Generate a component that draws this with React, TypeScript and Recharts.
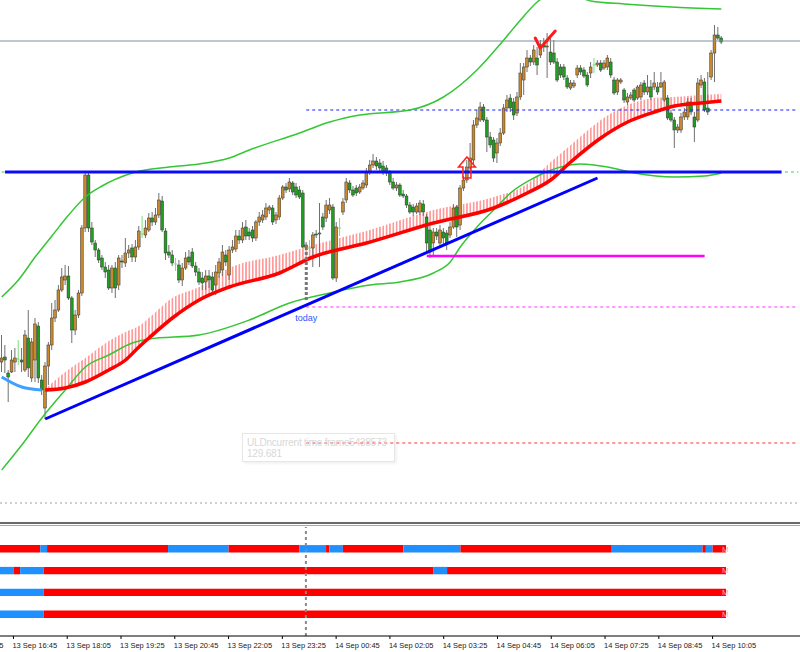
import {
  Area,
  Bar,
  ComposedChart,
  Line,
  ReferenceArea,
  ReferenceDot,
  ReferenceLine,
  XAxis,
  YAxis,
} from "recharts";

// time axis: first label sits off the left edge, the others every 16 bars
const timeLabels = [
  "13 Sep 15:25", "13 Sep 16:45", "13 Sep 18:05", "13 Sep 19:25", "13 Sep 20:45",
  "13 Sep 22:05", "13 Sep 23:25", "14 Sep 00:45", "14 Sep 02:05", "14 Sep 03:25",
  "14 Sep 04:45", "14 Sep 06:05", "14 Sep 07:25", "14 Sep 08:45", "14 Sep 10:05",
];
const tickIdx = [4, 20, 36, 52, 68, 84, 100, 116, 132, 148, 164, 180, 196, 212];

// M5 candles, 13 Sep 16:25 .. 14 Sep 10:20
const openP = [
  130.138, 130.143, 130.127, 130.128, 130.138, 130.141, 130.140, 130.130, 130.162, 130.122,
  130.140, 130.174, 130.120, 130.092, 130.134, 130.155, 130.182, 130.190, 130.210, 130.220,
  130.224, 130.202, 130.170, 130.185, 130.207, 130.272, 130.325, 130.272, 130.257, 130.250,
  130.242, 130.233, 130.230, 130.212, 130.232, 130.215, 130.239, 130.237, 130.247, 130.252,
  130.243, 130.253, 130.266, 130.265, 130.270, 130.282, 130.278, 130.285, 130.299, 130.269,
  130.248, 130.245, 130.236, 130.235, 130.220, 130.232, 130.243, 130.248, 130.234, 130.228,
  130.222, 130.218, 130.224, 130.223, 130.215, 130.227, 130.230, 130.245, 130.225, 130.250,
  130.251, 130.264, 130.260, 130.273, 130.268, 130.270, 130.262, 130.278, 130.280, 130.283,
  130.290, 130.292, 130.280, 130.283, 130.302, 130.313, 130.311, 130.317, 130.313, 130.310,
  130.307, 130.253, 130.252, 130.252, 130.266, 130.266, 130.283, 130.282, 130.290, 130.293,
  130.222, 130.272, 130.288, 130.300, 130.317, 130.310, 130.312, 130.308, 130.312, 130.315,
  130.328, 130.335, 130.339, 130.337, 130.334, 130.332, 130.327, 130.318, 130.312, 130.315,
  130.306, 130.304, 130.295, 130.293, 130.288, 130.288, 130.296, 130.283, 130.270, 130.257,
  130.268, 130.257, 130.268, 130.267, 130.265, 130.273, 130.293, 130.275, 130.312, 130.320,
  130.332, 130.340, 130.375, 130.380, 130.393, 130.380, 130.363, 130.360, 130.347, 130.357,
  130.367, 130.392, 130.402, 130.398, 130.387, 130.403, 130.420, 130.433, 130.442, 130.438,
  130.442, 130.445, 130.455, 130.453, 130.448, 130.447, 130.438, 130.433, 130.433, 130.422,
  130.412, 130.414, 130.425, 130.432, 130.430, 130.425, 130.427, 130.435, 130.435, 130.437,
  130.432, 130.433, 130.438, 130.420, 130.408, 130.418, 130.410, 130.398, 130.402, 130.410,
  130.402, 130.403, 130.417, 130.408, 130.413, 130.413, 130.413, 130.413, 130.400, 130.402,
  130.387, 130.380, 130.370, 130.370, 130.383, 130.383, 130.398, 130.383, 130.380, 130.415,
  130.418, 130.392, 130.423, 130.447, 130.465, 130.462,
];
const highP = [
  130.165, 130.155, 130.130, 130.150, 130.152, 130.160, 130.152, 130.170, 130.190, 130.162,
  130.182, 130.178, 130.125, 130.138, 130.158, 130.197, 130.200, 130.215, 130.232, 130.235,
  130.234, 130.204, 130.190, 130.210, 130.275, 130.328, 130.328, 130.278, 130.260, 130.252,
  130.245, 130.238, 130.235, 130.235, 130.238, 130.245, 130.245, 130.262, 130.255, 130.256,
  130.260, 130.274, 130.284, 130.280, 130.287, 130.288, 130.292, 130.307, 130.304, 130.272,
  130.255, 130.250, 130.242, 130.240, 130.237, 130.248, 130.250, 130.252, 130.238, 130.232,
  130.228, 130.230, 130.230, 130.228, 130.235, 130.242, 130.255, 130.250, 130.254, 130.260,
  130.270, 130.270, 130.278, 130.280, 130.272, 130.274, 130.280, 130.288, 130.290, 130.297,
  130.295, 130.295, 130.288, 130.305, 130.315, 130.317, 130.322, 130.319, 130.317, 130.314,
  130.310, 130.258, 130.260, 130.268, 130.270, 130.297, 130.287, 130.300, 130.302, 130.296,
  130.278, 130.282, 130.302, 130.322, 130.320, 130.314, 130.315, 130.316, 130.320, 130.332,
  130.340, 130.346, 130.343, 130.341, 130.339, 130.335, 130.330, 130.322, 130.318, 130.317,
  130.310, 130.306, 130.298, 130.296, 130.297, 130.300, 130.300, 130.286, 130.274, 130.272,
  130.272, 130.275, 130.272, 130.270, 130.278, 130.296, 130.295, 130.315, 130.324, 130.340,
  130.357, 130.380, 130.390, 130.398, 130.396, 130.383, 130.368, 130.363, 130.362, 130.372,
  130.396, 130.405, 130.406, 130.402, 130.408, 130.437, 130.437, 130.450, 130.445, 130.455,
  130.453, 130.460, 130.462, 130.467, 130.465, 130.460, 130.442, 130.436, 130.436, 130.425,
  130.420, 130.420, 130.435, 130.435, 130.433, 130.428, 130.438, 130.442, 130.440, 130.440,
  130.440, 130.445, 130.442, 130.423, 130.422, 130.422, 130.412, 130.407, 130.408, 130.412,
  130.415, 130.418, 130.420, 130.425, 130.420, 130.428, 130.418, 130.428, 130.420, 130.405,
  130.390, 130.383, 130.376, 130.387, 130.392, 130.402, 130.402, 130.388, 130.422, 130.425,
  130.422, 130.428, 130.450, 130.475, 130.473, 130.464,
];
const lowP = [
  130.128, 130.127, 130.098, 130.127, 130.128, 130.135, 130.128, 130.128, 130.123, 130.118,
  130.118, 130.117, 130.105, 130.081, 130.115, 130.150, 130.178, 130.188, 130.208, 130.215,
  130.200, 130.157, 130.165, 130.182, 130.204, 130.268, 130.268, 130.255, 130.243, 130.237,
  130.230, 130.222, 130.210, 130.207, 130.202, 130.210, 130.232, 130.233, 130.242, 130.238,
  130.238, 130.250, 130.262, 130.262, 130.268, 130.274, 130.275, 130.282, 130.268, 130.240,
  130.242, 130.234, 130.229, 130.217, 130.214, 130.230, 130.235, 130.232, 130.224, 130.215,
  130.210, 130.210, 130.212, 130.207, 130.205, 130.222, 130.224, 130.234, 130.220, 130.247,
  130.248, 130.256, 130.257, 130.260, 130.260, 130.258, 130.259, 130.274, 130.277, 130.280,
  130.286, 130.275, 130.276, 130.280, 130.300, 130.307, 130.308, 130.305, 130.302, 130.301,
  130.252, 130.250, 130.248, 130.233, 130.262, 130.233, 130.270, 130.278, 130.286, 130.220,
  130.218, 130.264, 130.285, 130.297, 130.307, 130.303, 130.304, 130.306, 130.310, 130.312,
  130.325, 130.332, 130.330, 130.328, 130.325, 130.324, 130.315, 130.310, 130.309, 130.303,
  130.302, 130.292, 130.286, 130.284, 130.286, 130.285, 130.284, 130.247, 130.242, 130.245,
  130.260, 130.252, 130.255, 130.250, 130.262, 130.271, 130.263, 130.270, 130.309, 130.317,
  130.330, 130.335, 130.372, 130.378, 130.378, 130.348, 130.352, 130.338, 130.337, 130.354,
  130.365, 130.388, 130.388, 130.380, 130.384, 130.400, 130.405, 130.428, 130.434, 130.435,
  130.425, 130.442, 130.448, 130.422, 130.435, 130.436, 130.418, 130.422, 130.420, 130.411,
  130.410, 130.412, 130.422, 130.425, 130.422, 130.413, 130.422, 130.427, 130.433, 130.428,
  130.430, 130.430, 130.422, 130.405, 130.405, 130.416, 130.397, 130.395, 130.400, 130.398,
  130.400, 130.400, 130.405, 130.405, 130.400, 130.410, 130.405, 130.412, 130.398, 130.380,
  130.378, 130.352, 130.367, 130.367, 130.380, 130.380, 130.385, 130.358, 130.378, 130.412,
  130.388, 130.385, 130.420, 130.418, 130.460, 130.456,
];
const closeP = [
  130.142, 130.140, 130.123, 130.140, 130.142, 130.141, 130.138, 130.165, 130.132, 130.158,
  130.176, 130.122, 130.110, 130.134, 130.155, 130.182, 130.190, 130.210, 130.223, 130.224,
  130.202, 130.170, 130.185, 130.207, 130.272, 130.325, 130.272, 130.258, 130.250, 130.240,
  130.233, 130.228, 130.212, 130.232, 130.212, 130.242, 130.238, 130.247, 130.250, 130.243,
  130.253, 130.269, 130.266, 130.272, 130.282, 130.278, 130.285, 130.300, 130.270, 130.247,
  130.245, 130.237, 130.236, 130.220, 130.232, 130.242, 130.238, 130.234, 130.228, 130.218,
  130.217, 130.224, 130.220, 130.210, 130.228, 130.238, 130.248, 130.238, 130.250, 130.253,
  130.264, 130.260, 130.272, 130.264, 130.264, 130.262, 130.278, 130.283, 130.285, 130.292,
  130.293, 130.278, 130.285, 130.302, 130.313, 130.310, 130.318, 130.308, 130.305, 130.303,
  130.253, 130.255, 130.252, 130.265, 130.265, 130.267, 130.273, 130.295, 130.295, 130.222,
  130.273, 130.272, 130.298, 130.318, 130.310, 130.305, 130.307, 130.313, 130.317, 130.328,
  130.335, 130.339, 130.334, 130.332, 130.328, 130.327, 130.318, 130.312, 130.315, 130.305,
  130.304, 130.295, 130.288, 130.288, 130.294, 130.297, 130.288, 130.257, 130.248, 130.268,
  130.264, 130.270, 130.262, 130.257, 130.273, 130.292, 130.273, 130.312, 130.320, 130.333,
  130.342, 130.375, 130.382, 130.393, 130.380, 130.363, 130.355, 130.342, 130.357, 130.367,
  130.392, 130.400, 130.392, 130.385, 130.403, 130.427, 130.433, 130.442, 130.438, 130.450,
  130.435, 130.455, 130.453, 130.454, 130.438, 130.438, 130.420, 130.425, 130.423, 130.413,
  130.417, 130.417, 130.432, 130.428, 130.424, 130.415, 130.433, 130.435, 130.437, 130.430,
  130.437, 130.442, 130.425, 130.407, 130.420, 130.420, 130.400, 130.403, 130.405, 130.400,
  130.413, 130.415, 130.408, 130.413, 130.403, 130.417, 130.408, 130.417, 130.418, 130.382,
  130.380, 130.370, 130.373, 130.383, 130.388, 130.398, 130.388, 130.373, 130.417, 130.420,
  130.390, 130.388, 130.447, 130.465, 130.462, 130.458,
];

// indicator lines, [bar index, price]
const maLine: [number, number][] = [
  [13, 130.11], [19, 130.112], [25, 130.118], [32, 130.13], [37, 130.14], [41, 130.153],
  [44, 130.162], [51, 130.182], [59, 130.2], [68, 130.213], [83, 130.227], [93, 130.243],
  [109, 130.257], [129, 130.277], [147, 130.292], [157, 130.307], [164, 130.32], [170, 130.338],
  [179, 130.362], [187, 130.378], [195, 130.388], [201, 130.394], [209, 130.397], [215, 130.399],
];
const maTop: [number, number][] = [
  [13, 130.111], [19, 130.128], [25, 130.142], [32, 130.159], [37, 130.168], [41, 130.174],
  [44, 130.182], [51, 130.202], [59, 130.213], [68, 130.232], [83, 130.245], [93, 130.255],
  [109, 130.269], [129, 130.29], [147, 130.303], [157, 130.316], [164, 130.338], [170, 130.355],
  [179, 130.38], [187, 130.395], [195, 130.402], [201, 130.403], [209, 130.405], [215, 130.406],
];
const upperBand: [number, number][] = [
  [0, 130.203], [5, 130.22], [10, 130.243], [15, 130.264], [20, 130.285], [25, 130.303],
  [30, 130.314], [39, 130.327], [50, 130.333], [59, 130.336], [68, 130.342], [74, 130.35],
  [89, 130.367], [98, 130.378], [107, 130.385], [122, 130.39], [132, 130.403], [142, 130.43],
  [150, 130.46], [155, 130.48], [160, 130.498], [167, 130.51], [176, 130.499], [186, 130.496],
  [200, 130.493], [215, 130.491],
];
const lowerBand: [number, number][] = [
  [0, 130.03], [6, 130.055], [12, 130.082], [19, 130.11], [25, 130.133], [32, 130.145],
  [39, 130.157], [44, 130.161], [59, 130.165], [74, 130.18], [86, 130.197], [98, 130.207],
  [110, 130.215], [119, 130.218], [129, 130.227], [134, 130.238], [137, 130.253], [142, 130.273],
  [147, 130.29], [152, 130.307], [159, 130.322], [167, 130.333], [173, 130.336], [181, 130.333],
  [189, 130.327], [201, 130.323], [210, 130.324], [215, 130.327],
];
const fadeMa: [number, number][] = [[0, 130.123], [6, 130.113], [12, 130.11]];

// chart objects
const lastPrice = 130.459;
const blueLevel = 130.39;
const resistance = 130.328;
const magentaLevel = 130.244;
const pinkLevel = 130.193;
const redLevel = 130.057;
const grayLevel = 129.997;

// status bars of the sub window: [from bar, to bar, colour]
type Seg = [number, number, "r" | "b"];
const row1: Seg[] = [
  [0, 11, "r"], [12, 13, "b"], [14, 49, "r"], [50, 67, "b"], [68, 88, "r"], [89, 96, "b"],
  [97, 97, "r"], [98, 101, "b"], [102, 119, "r"], [120, 136, "b"], [137, 181, "r"],
  [182, 208, "b"], [209, 209, "r"], [210, 211, "b"], [212, 215, "r"],
];
const row2: Seg[] = [[0, 3, "b"], [4, 5, "r"], [6, 12, "b"], [13, 128, "r"], [129, 132, "b"], [133, 215, "r"]];
const row3: Seg[] = [[0, 12, "b"], [13, 215, "r"]];
const row4: Seg[] = [[0, 12, "b"], [13, 215, "r"]];

const N = 239;
const BAND = 800 / N;
const FONT = '"Liberation Sans", Arial, sans-serif';

const rows: any[] = Array.from({ length: N }, (_, i) => ({ i }));
openP.forEach((o, i) => {
  Object.assign(rows[i], { o, h: highP[i], l: lowP[i], c: closeP[i], candle: [lowP[i], highP[i]] });
});
const put = (key: string, pts: [number, number][]) => pts.forEach(([i, v]) => (rows[i][key] = v));
put("ma", maLine);
put("upper", upperBand);
put("lower", lowerBand);
put("fade", fadeMa);
maTop.forEach(([i, v]) => {
  const base = maLine.find((p) => p[0] === i);
  if (base) rows[i].hatch = [base[1], v];
});

function Candle(props: any) {
  const { x, y, width, height, payload } = props;
  if (payload == null || payload.o == null || !height) return null;
  const cx = x + width / 2;
  const span = payload.h - payload.l;
  const py = (v: number) => y + ((payload.h - v) / span) * height;
  const yo = py(payload.o);
  const yc = py(payload.c);
  if (payload.o === payload.c) {
    return (
      <g>
        <line x1={cx} x2={cx} y1={y} y2={y + height} stroke="#7ddc7d" />
        <line x1={cx - 1.5} x2={cx + 1.5} y1={yo} y2={yo} stroke="#7ddc7d" />
      </g>
    );
  }
  const bull = payload.c > payload.o;
  const top = Math.min(yo, yc);
  return (
    <g>
      <line x1={cx} x2={cx} y1={y} y2={y + height} stroke="#707070" />
      <rect
        x={cx - 1.4}
        y={top}
        width={2.8}
        height={Math.max(1, Math.abs(yo - yc))}
        fill={bull ? "#c9882b" : "#1f9f1f"}
        stroke="#333"
        strokeWidth={0.5}
      />
    </g>
  );
}

function TimeTick(props: any) {
  const { x, y, payload } = props;
  const k = tickIdx.indexOf(payload.value);
  const st = { fontFamily: FONT, fontSize: 7.5, fill: "#222" };
  return (
    <g>
      {k === 0 && (
        <text x={x - 16 * BAND - 1} y={y + 6.5} {...st}>
          {timeLabels[0]}
        </text>
      )}
      <text x={x - 1} y={y + 6.5} {...st}>
        {timeLabels[k + 1]}
      </text>
    </g>
  );
}

const checkShape = (p: any) => (
  <path
    d={`M${p.cx - 2},${p.cy - 10} L${p.cx + 3},${p.cy} L${p.cx + 18},${p.cy - 17}`}
    stroke="#ff1a1a"
    strokeWidth={3}
    fill="none"
    strokeLinecap="round"
    strokeLinejoin="round"
  />
);
const arrowShape = (p: any) => {
  const { cx, cy } = p;
  const pts = [
    [cx, cy], [cx + 8.5, cy + 10], [cx + 4, cy + 10], [cx + 4, cy + 21],
    [cx - 4, cy + 21], [cx - 4, cy + 10], [cx - 8.5, cy + 10],
  ];
  return <polygon points={pts.map((q) => q.join(",")).join(" ")} fill="none" stroke="#ff2020" strokeWidth={1.5} />;
};
const todayShape = (p: any) => (
  <text x={p.cx} y={p.cy} textAnchor="middle" fontFamily={FONT} fontSize={9} fill="#3355ff">
    today
  </text>
);

const segColor = { r: "#ff0000", b: "#1e90ff" };

export default function App() {
  const statusRows = [row1, row2, row3, row4];
  return (
    <div style={{ position: "absolute", left: 0, top: 0, width: 800, height: 652, background: "#fff", overflow: "hidden" }}>
      <div style={{ position: "absolute", left: 0, top: 0 }}>
        <ComposedChart width={800} height={520} data={rows} margin={{ top: 0, right: 0, bottom: 0, left: 0 }} barCategoryGap={0} barGap={0}>
          <defs>
            <pattern id="hatch" patternUnits="userSpaceOnUse" width={BAND} height={10}>
              <rect x={BAND / 2 - 0.6} y={0} width={1.2} height={10} fill="#ff5a5a" />
            </pattern>
          </defs>
          <XAxis dataKey="i" type="category" hide />
          <YAxis type="number" domain={[129.98, 130.5]} allowDataOverflow hide />

          <ReferenceLine y={grayLevel} stroke="#a0a0a0" strokeDasharray="2 3" />
          <ReferenceLine y={lastPrice} stroke="#7d8ea3" />
          <ReferenceLine segment={[{ x: 91, y: blueLevel }, { x: 238, y: blueLevel }]} stroke="#1a1aff" strokeDasharray="3 3" />
          <ReferenceLine segment={[{ x: 91, y: pinkLevel }, { x: 238, y: pinkLevel }]} stroke="#ff33ff" strokeDasharray="3 3" />
          <ReferenceLine segment={[{ x: 91, y: redLevel }, { x: 238, y: redLevel }]} stroke="#ff3030" strokeDasharray="3 3" />

          <Area dataKey="hatch" type="monotone" connectNulls fill="url(#hatch)" fillOpacity={0.85} stroke="none" isAnimationActive={false} />
          <Line dataKey="upper" type="monotone" connectNulls dot={false} activeDot={false} stroke="#34c634" strokeWidth={1.5} isAnimationActive={false} />
          <Line dataKey="lower" type="monotone" connectNulls dot={false} activeDot={false} stroke="#34c634" strokeWidth={1.5} isAnimationActive={false} />
          <Line dataKey="fade" type="monotone" connectNulls dot={false} activeDot={false} stroke="#3fa0ff" strokeWidth={3} isAnimationActive={false} />
          <Line dataKey="ma" type="monotone" connectNulls dot={false} activeDot={false} stroke="#ff0000" strokeWidth={3.5} isAnimationActive={false} />

          <ReferenceLine segment={[{ x: 91, y: 130.253 }, { x: 91, y: 130.198 }]} stroke="#777" strokeWidth={3} strokeDasharray="3 2" />
          <Bar dataKey="candle" shape={(p: any) => <Candle {...p} />} isAnimationActive={false} />

          <ReferenceLine segment={[{ x: 1, y: resistance }, { x: 233, y: resistance }]} stroke="#0a0aff" strokeWidth={3} />
          <ReferenceLine segment={[{ x: 0, y: resistance }, { x: 1, y: resistance }]} stroke="#44cc44" strokeDasharray="3 3" />
          <ReferenceLine segment={[{ x: 234, y: resistance }, { x: 238, y: resistance }]} stroke="#44cc44" strokeDasharray="3 3" />
          <ReferenceLine segment={[{ x: 127, y: magentaLevel }, { x: 210, y: magentaLevel }]} stroke="#ff00ff" strokeWidth={2.5} />
          <ReferenceLine segment={[{ x: 13, y: 130.081 }, { x: 178, y: 130.322 }]} stroke="#0000ff" strokeWidth={3} />

          <ReferenceDot x={160} y={130.452} r={1} shape={checkShape} />
          <ReferenceDot x={139} y={130.343} r={1} shape={arrowShape} />
          <ReferenceDot x={91} y={130.179} r={1} shape={todayShape} />
        </ComposedChart>
      </div>

      <div
        style={{
          position: "absolute",
          left: 242,
          top: 433,
          width: 153,
          height: 29,
          boxSizing: "border-box",
          border: "1px solid #e6e6e6",
          boxShadow: "2px 2px 2px rgba(0,0,0,0.05)",
          padding: "3px 4px",
          fontFamily: FONT,
          fontSize: 10,
          letterSpacing: -0.2,
          lineHeight: "11px",
          color: "#d8d8d8",
          whiteSpace: "nowrap",
        }}
      >
        ULDncurrent time frame5438573
        <br />
        129.681
      </div>

      <div style={{ position: "absolute", left: 0, top: 522, width: 800, height: 2, background: "#6a6a6a" }} />
      <div style={{ position: "absolute", left: 0, top: 525, width: 800, height: 1, background: "#a8a8a8" }} />

      <div style={{ position: "absolute", left: 0, top: 527 }}>
        <ComposedChart width={800} height={125} data={rows} margin={{ top: 0, right: 0, bottom: 0, left: 0 }}>
          <XAxis
            dataKey="i"
            type="category"
            ticks={tickIdx}
            interval={0}
            height={16}
            tickSize={3}
            axisLine={{ stroke: "#000" }}
            tickLine={{ stroke: "#000" }}
            tick={(p: any) => <TimeTick {...p} />}
          />
          <YAxis type="number" domain={[0, 5]} reversed allowDataOverflow hide />
          {statusRows.map((segs, r) =>
            segs.map(([a, b, col], k) => (
              <ReferenceArea
                key={`${r}-${k}`}
                x1={a}
                x2={b + 1}
                y1={r + 1 - 0.17}
                y2={r + 1 + 0.17}
                fill={segColor[col]}
                fillOpacity={1}
                stroke="none"
                label={
                  k === segs.length - 1
                    ? { value: "M", position: "right", offset: -4, fill: "#ffb0b0", fontSize: 8, fontFamily: FONT }
                    : undefined
                }
              />
            ))
          )}
          <ReferenceLine x={91} stroke="#8a8a8a" strokeWidth={2} strokeDasharray="3 3" />
        </ComposedChart>
      </div>
    </div>
  );
}
